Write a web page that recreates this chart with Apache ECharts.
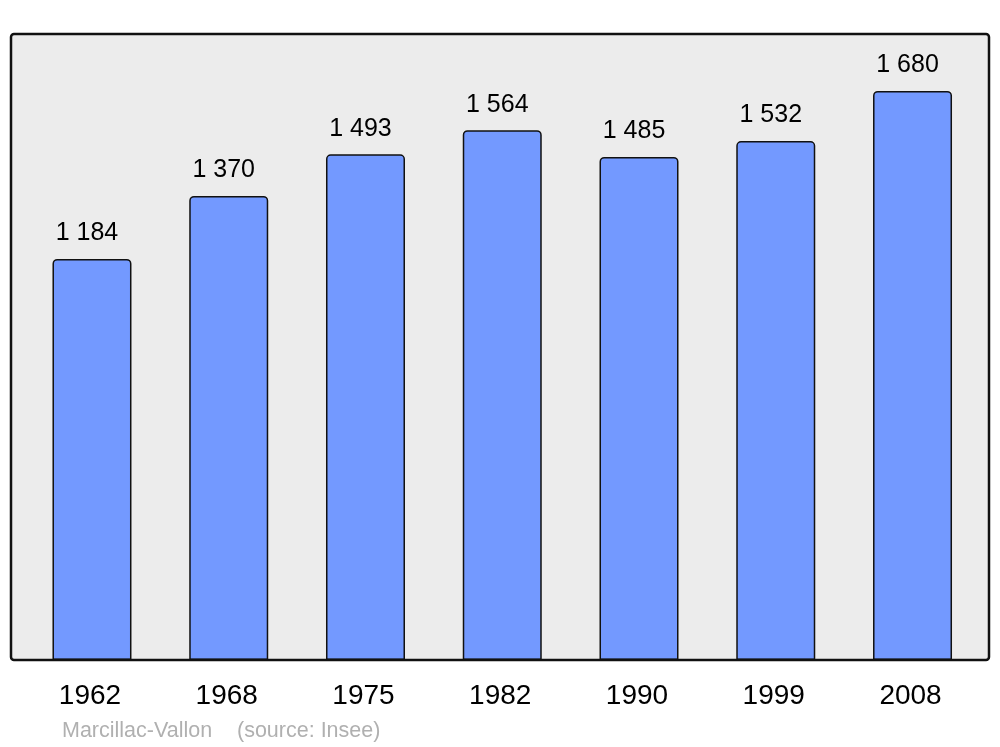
<!DOCTYPE html>
<html>
<head>
<meta charset="utf-8">
<script src="https://cdn.jsdelivr.net/npm/echarts@6/dist/echarts.min.js"></script>
<style>html,body{margin:0;padding:0;background:#fff}#c{width:1000px;height:747px}</style>
</head>
<body>
<div id="c"></div>
<script>
const years = ['1962', '1968', '1975', '1982', '1990', '1999', '2008'];
const population = [1184, 1370, 1493, 1564, 1485, 1532, 1680];
const townName = 'Marcillac-Vallon';
const sourceText = '(source: Insee)';

const chart = echarts.init(document.getElementById('c'), null, {renderer: 'canvas'});
const fmt = v => String(v).replace(/\B(?=(\d{3})+(?!\d))/g, ' ');
chart.setOption({
  animation: false,
  textStyle: {fontFamily: 'Liberation Sans'},
  grid: {left: 23.6, right: 19.1, top: 34, bottom: 87},
  xAxis: {
    type: 'category', data: years,
    axisLine: {show: false}, axisTick: {show: false},
    axisLabel: {fontSize: 28, color: '#000', margin: 22, padding: [0, 4, 0, 0], fontFamily: 'Liberation Sans'}
  },
  yAxis: {type: 'value', min: 0, max: 1848, show: false, splitLine: {show: false}},
  graphic: [
    {type: 'rect', z: -10, shape: {x: 11, y: 34, width: 978, height: 626, r: 3},
     style: {fill: '#ececec', stroke: null}},
    {type: 'rect', z: 100, shape: {x: 11, y: 34, width: 978, height: 626, r: 3},
     style: {fill: null, stroke: '#111', lineWidth: 2.5}},
    {type: 'text', left: 62, top: 720, style: {text: townName, fill: '#b0b0b0', font: '21.5px "Liberation Sans"'}},
    {type: 'text', left: 237, top: 720, style: {text: sourceText, fill: '#b0b0b0', font: '21.5px "Liberation Sans"'}}
  ],
  series: [{
    type: 'bar', data: population, barWidth: 79,
    itemStyle: {color: '#7399ff', borderColor: '#111', borderWidth: 1.5, borderRadius: [4, 4, 0, 0]},
    label: {show: true, position: 'top', distance: 13, offset: [-5, 0], fontSize: 25, color: '#000',
            fontFamily: 'Liberation Sans', formatter: p => fmt(p.value)}
  }]
});
</script>
</body>
</html>
